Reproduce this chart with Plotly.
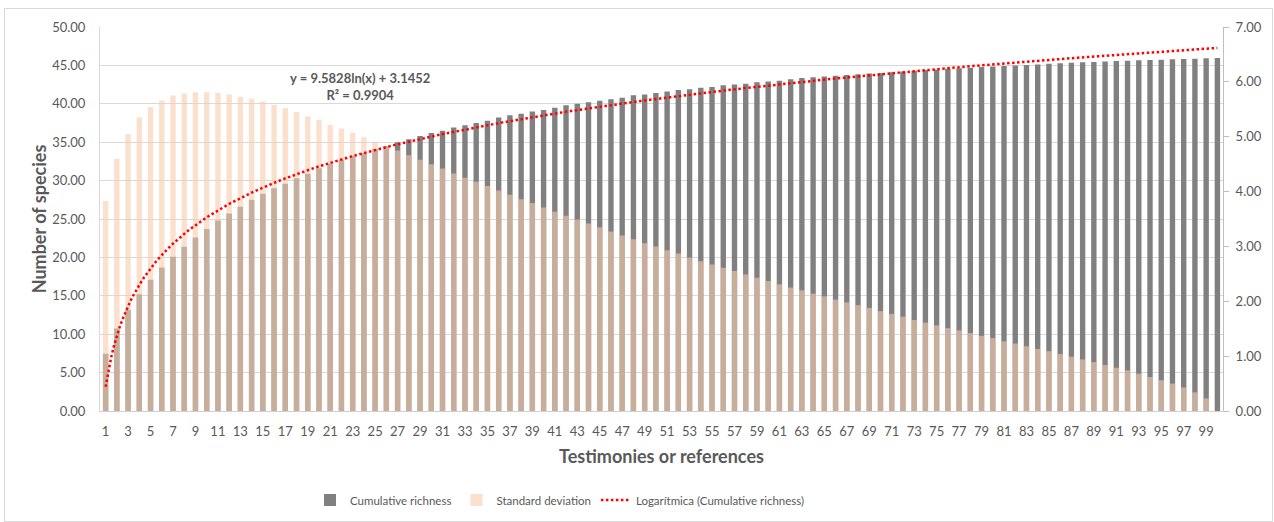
import numpy as np
import plotly.graph_objects as go

# ---------------- data ----------------
testimonies = list(range(1, 101))

cumulative_richness = [
    7.46, 10.75, 13.17, 15.2, 17.1, 18.67, 20.1, 21.4, 22.6, 23.7,
    24.8, 25.7, 26.6, 27.5, 28.3, 29.0, 29.6, 30.3, 30.9, 31.6,
    32.2, 32.7, 33.2, 33.6, 34.1, 34.5, 35.0, 35.4, 35.8, 36.2,
    36.5, 36.9, 37.2, 37.5, 37.8, 38.2, 38.5, 38.7, 39.0, 39.2,
    39.5, 39.8, 40.0, 40.2, 40.4, 40.6, 40.8, 41.1, 41.2, 41.4,
    41.6, 41.8, 41.9, 42.1, 42.2, 42.4, 42.5, 42.6, 42.8, 42.9,
    43.0, 43.2, 43.35, 43.45, 43.55, 43.65, 43.75, 43.84, 43.93, 44.0,
    44.1, 44.2, 44.3, 44.4, 44.48, 44.56, 44.63, 44.71, 44.79, 44.85,
    44.92, 45.0, 45.06, 45.13, 45.2, 45.27, 45.34, 45.4, 45.45, 45.5,
    45.56, 45.61, 45.66, 45.71, 45.75, 45.8, 45.84, 45.88, 45.92, 45.96,
]

standard_deviation = [
    3.83, 4.60, 5.05, 5.35, 5.54, 5.66, 5.75, 5.79, 5.81, 5.81,
    5.80, 5.77, 5.73, 5.69, 5.64, 5.58, 5.52, 5.45, 5.37, 5.31,
    5.22, 5.15, 5.07, 4.99, 4.91, 4.83, 4.75, 4.66, 4.58, 4.50,
    4.42, 4.33, 4.25, 4.18, 4.10, 4.02, 3.94, 3.86, 3.79, 3.71,
    3.63, 3.56, 3.49, 3.42, 3.35, 3.27, 3.20, 3.13, 3.06, 3.00,
    2.93, 2.87, 2.80, 2.73, 2.67, 2.61, 2.55, 2.49, 2.43, 2.37,
    2.31, 2.25, 2.20, 2.14, 2.09, 2.03, 1.98, 1.93, 1.88, 1.82,
    1.77, 1.72, 1.66, 1.61, 1.56, 1.51, 1.47, 1.42, 1.37, 1.33,
    1.27, 1.23, 1.18, 1.13, 1.09, 1.04, 0.99, 0.94, 0.89, 0.84,
    0.79, 0.74, 0.68, 0.62, 0.56, 0.50, 0.43, 0.34, 0.23, 0.00,
]

# logarithmic trendline coefficients shown on the chart
trend_a = 9.5828
trend_b = 3.1452
trend_r2 = 0.9904

x_tick_values = list(range(1, 100, 2))
x_tick_labels = [str(v) for v in x_tick_values]

# ---------------- figure ----------------
FONT = "Lato, 'Open Sans', sans-serif"
TXT = "#595959"

trend_x = np.linspace(1, 100, 400)
trend_y = trend_a * np.log(trend_x) + trend_b

fig = go.Figure()
fig.add_trace(go.Bar(
    x=testimonies, y=cumulative_richness, name="Cumulative richness",
    marker=dict(color="#808080", line=dict(width=0)), width=0.48,
    yaxis="y",
))
fig.add_trace(go.Bar(
    x=testimonies, y=standard_deviation, name="Standard deviation",
    marker=dict(color="rgba(248,203,173,0.6)", line=dict(width=0)), width=0.48,
    yaxis="y2",
))
fig.add_trace(go.Scatter(
    x=trend_x, y=trend_y, mode="lines", name="Logarítmica (Cumulative richness)",
    line=dict(color="#FF0000", width=2.5, dash="2.5px,2.5px"),
    yaxis="y3", hoverinfo="skip",
))

W, H = 1274, 522
ML, MR, MT, MB = 100, 51, 27, 111
PW, PH = W - ML - MR, H - MT - MB

def px_x(p):
    return (p - ML) / PW

def px_y(p):
    return (H - MB - p) / PH

fig.update_layout(
    width=W, height=H,
    margin=dict(l=ML, r=MR, t=MT, b=MB, autoexpand=False),
    paper_bgcolor="white", plot_bgcolor="white",
    barmode="overlay",
    font=dict(family=FONT, color=TXT, size=13),
    xaxis=dict(
        range=[0.5, 100.5], tickmode="array", tickvals=x_tick_values, ticktext=x_tick_labels,
        showgrid=False, showline=True, linecolor="#D0D0D0", linewidth=1,
        ticks="", ticklabelstandoff=8, tickfont=dict(size=13, color=TXT),
        title=dict(text="<b>Testimonies or references</b>", font=dict(size=18, color=TXT), standoff=12),
        zeroline=False, automargin=False,
    ),
    yaxis=dict(
        range=[0, 50], dtick=5, tickformat=".2f", showgrid=True, gridcolor="#D9D9D9", gridwidth=1,
        showline=True, linecolor="#D9D9D9", ticks="", ticklabelstandoff=11,
        tickfont=dict(size=13, color=TXT), zeroline=False, automargin=False,
        title=dict(text="<b>Number of species</b>", font=dict(size=18, color=TXT), standoff=0),
    ),
    yaxis2=dict(
        range=[0, 7], dtick=1, tickformat=".2f", overlaying="y", side="right",
        showgrid=False, showline=True, linecolor="#BFBFBF", ticks="outside", ticklen=5,
        tickcolor="#BFBFBF", ticklabelstandoff=4, tickfont=dict(size=13, color=TXT),
        zeroline=False, automargin=False,
    ),
    yaxis3=dict(range=[0, 50], overlaying="y", visible=False),
    legend=dict(
        orientation="h", x=px_x(310), xanchor="left", y=px_y(500), yanchor="middle",
        font=dict(size=11.5, color=TXT), itemwidth=30, bgcolor="rgba(0,0,0,0)",
        traceorder="normal",
    ),
    showlegend=True,
    annotations=[dict(
        x=px_x(360), y=px_y(86), xref="paper", yref="paper", xanchor="center", yanchor="middle",
        text=f"<b>y = {trend_a}ln(x) + {trend_b}<br>R² = {trend_r2}</b>",
        showarrow=False, font=dict(size=13, color=TXT, family=FONT), align="center",
    )],
    shapes=[dict(
        type="rect", xref="paper", yref="paper",
        x0=px_x(4.5), x1=px_x(1272.5), y0=px_y(521.5), y1=px_y(8.5),
        line=dict(color="#D9D9D9", width=1), fillcolor="rgba(0,0,0,0)", layer="below",
    )],
)

fig.write_html(
    "out.html",
    config={"displayModeBar": False},
    post_script="document.body.style.margin='0px';",
)
